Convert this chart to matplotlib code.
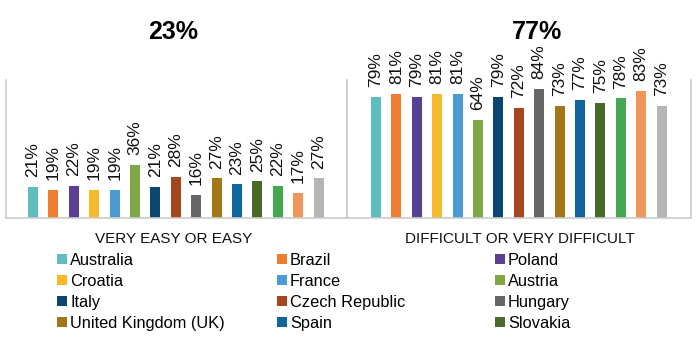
import matplotlib
matplotlib.use("Agg")
import matplotlib.pyplot as plt
from matplotlib.patches import Patch

# legend names visible in the source (last three bars have no legend entry there)
COUNTRIES = [
    "Australia", "Brazil", "Poland",
    "Croatia", "France", "Austria",
    "Italy", "Czech Republic", "Hungary",
    "United Kingdom (UK)", "Spain", "Slovakia",
]
COLORS = [
    "#5FBDBF", "#EC7D31", "#5B3F95", "#F5B92A", "#4A9BD1",
    "#7EA846", "#0B4771", "#A5461E", "#666666", "#A37619",
    "#0F669C", "#4A6A2A", "#44A853", "#F0965A", "#B5B5B5",
]
EASY = [21, 19, 22, 19, 19, 36, 21, 28, 16, 27, 23, 25, 22, 17, 27]
DIFFICULT = [79, 81, 79, 81, 81, 64, 79, 72, 84, 73, 77, 75, 78, 83, 73]
GROUP_LABELS = ["VERY EASY OR EASY", "DIFFICULT OR VERY DIFFICULT"]
TOTALS = ["23%", "77%"]

FONT = ["Liberation Sans", "DejaVu Sans"]
SPINE = "#CCCCCC"

W, H = 700, 350
fig = plt.figure(figsize=(7, 3.5), dpi=100)
fig.patch.set_facecolor("white")

base = 218
top = 80


def px_axes(x0, x1):
    return fig.add_axes([x0 / W, (H - base) / H, (x1 - x0) / W, (base - top) / H])


ax1 = px_axes(5.7, 347)
ax2 = px_axes(347, 691)

panels = [
    (ax1, EASY, 94, (-1.34, 15.39)),
    (ax2, DIFFICULT, 90, (-1.42, 15.44)),
]
for ax, vals, ymax, xl in panels:
    xs = range(len(vals))
    ax.bar(xs, vals, width=0.49, color=COLORS, edgecolor="none")
    for x, v in zip(xs, vals):
        ax.annotate(f"{v}%", (x, v), xytext=(0, 7), textcoords="offset points",
                    rotation=90, ha="center", va="bottom",
                    fontsize=12.5, family=FONT, color="#111111")
    ax.set_ylim(0, ymax)
    ax.set_xlim(*xl)
    ax.set_xticks([])
    ax.set_yticks([])
    ax.spines["top"].set_visible(False)
    for s in ("left", "right", "bottom"):
        ax.spines[s].set_color(SPINE)
        ax.spines[s].set_linewidth(1.2)
    ax.patch.set_alpha(0)

# big totals
fig.text(173 / W, 1 - 32 / H, TOTALS[0], ha="center", va="center",
         fontsize=18, fontweight="bold", family=FONT)
fig.text(537 / W, 1 - 32 / H, TOTALS[1], ha="center", va="center",
         fontsize=18, fontweight="bold", family=FONT)

# group captions
fig.text(174 / W, 1 - 239 / H, GROUP_LABELS[0], ha="center", va="center",
         fontsize=11, family=FONT, color="#111111")
fig.text(520 / W, 1 - 239 / H, GROUP_LABELS[1], ha="center", va="center",
         fontsize=11, family=FONT, color="#111111")

# legend: three columns placed by hand, filled row-wise like the source
col_x = [57, 277, 495]
for c in range(3):
    idx = list(range(c, len(COUNTRIES), 3))
    handles = [Patch(facecolor=COLORS[i], edgecolor="none") for i in idx]
    labels = [COUNTRIES[i] for i in idx]
    fig.legend(handles, labels, loc="upper left",
               bbox_to_anchor=(col_x[c] / W, 1 - 253 / H),
               frameon=False, borderpad=0, borderaxespad=0,
               handlelength=0.6, handleheight=0.6, handletextpad=0.2,
               labelspacing=0.36, prop={"family": FONT, "size": 11.8})

fig.savefig("out.png", dpi=100, facecolor="white")
